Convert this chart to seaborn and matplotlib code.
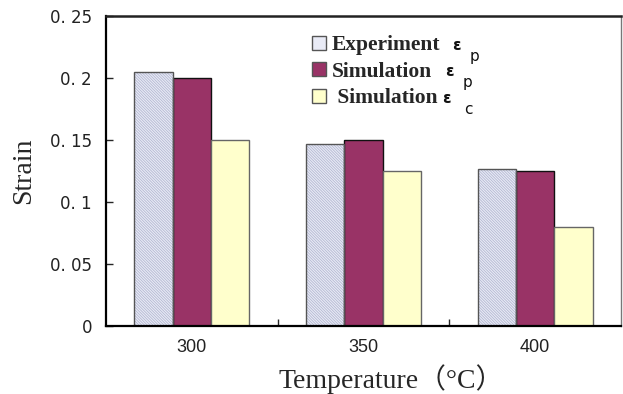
import matplotlib
matplotlib.use("Agg")
import matplotlib.pyplot as plt
import seaborn as sns
import pandas as pd
from matplotlib.patches import Patch, Rectangle
from matplotlib.ticker import FixedLocator

temperatures = ["300", "350", "400"]
series_names = ["Experiment εp", "Simulation εp", "Simulation εc"]
legend_words = ["Experiment", "Simulation", " Simulation"]
legend_subscripts = ["p", "p", "c"]
experiment_ep = [0.205, 0.147, 0.127]
simulation_ep = [0.200, 0.150, 0.125]
simulation_ec = [0.150, 0.125, 0.080]
colors = ["#E9EBF6", "#993366", "#FFFFCC"]
edge_colors = ["#555555", "#111111", "#666666"]
hatch_color = "#B4B8D2"
y_ticks = [0, 0.05, 0.1, 0.15, 0.2, 0.25]
y_tick_labels = ["0", "0. 05", "0. 1", "0. 15", "0. 2", "0. 25"]

rows = []
for name, vals in zip(series_names, [experiment_ep, simulation_ep, simulation_ec]):
    for t, v in zip(temperatures, vals):
        rows.append({"Temperature": t, "Strain": v, "Series": name})
df = pd.DataFrame(rows)

sns.set_style("ticks")
plt.rcParams["font.family"] = ["Liberation Serif", "Noto Sans CJK SC", "DejaVu Sans"]
plt.rcParams["hatch.linewidth"] = 0.6

fig = plt.figure(figsize=(6.23, 3.94), dpi=100)
ax = fig.add_axes([106/623, 1-326/394, (621-106)/623, (326-16)/394])

sns.barplot(data=df, x="Temperature", y="Strain", hue="Series",
            order=temperatures, hue_order=series_names,
            palette=dict(zip(series_names, colors)), saturation=1,
            width=0.67, edgecolor="black", linewidth=1.0, ax=ax, legend=False)

# hatch the experiment bars (hatch takes the edge colour; outline redrawn on top)
for bar in ax.containers[0]:
    bar.set_hatch("\\" * 12)
    bar.set_edgecolor(hatch_color)
    bar.set_linewidth(0)
    outline = Rectangle(bar.get_xy(), bar.get_width(), bar.get_height(), fill=False,
                        edgecolor=edge_colors[0], linewidth=1.0, zorder=bar.get_zorder() + 0.1)
    ax.add_patch(outline)
for bar in ax.containers[1]:
    bar.set_edgecolor(edge_colors[1])
for bar in ax.containers[2]:
    bar.set_edgecolor(edge_colors[2])

ax.set_ylim(0, 0.25)
ax.set_xlim(-0.5, len(temperatures) - 0.5)
ax.yaxis.set_major_locator(FixedLocator(y_ticks))
ax.set_yticklabels(y_tick_labels, fontsize=12, family=["DejaVu Sans"], color="#222222")
ax.set_xticks(range(len(temperatures)))
ax.set_xticklabels(temperatures, fontsize=13, family=["Liberation Sans"], color="#222222")
ax.tick_params(axis="x", length=0, pad=9)
ax.set_xticks([0.5, 1.5], minor=True)
ax.tick_params(axis="x", which="minor", direction="in", length=5, width=1)
ax.tick_params(axis="y", direction="in", length=5, width=1, pad=10)

for s in ["left", "bottom"]:
    ax.spines[s].set_linewidth(1.6)
    ax.spines[s].set_color("black")
ax.spines["top"].set_linewidth(1.8)
ax.spines["top"].set_color("#222222")
ax.spines["right"].set_linewidth(1.0)
ax.spines["right"].set_color("#777777")

ax.set_ylabel("Strain", fontsize=20, labelpad=10)
ax.set_xlabel("Temperature（°C）", fontsize=20, labelpad=6)
ax.xaxis.label.set_x(0.554)

handles = [Patch(facecolor=c, edgecolor="#555555", linewidth=1.0) for c in colors]
leg = ax.legend(handles, legend_words, loc="upper left", bbox_to_anchor=(0.363, 1.0),
                frameon=False, handlelength=0.62, handleheight=0.62, handletextpad=0.3,
                labelspacing=0.3, prop={"family": "Liberation Serif", "weight": "bold", "size": 15.5})
leg.set_zorder(5)

# epsilon symbols with lowered subscripts after each legend label
eps_gap = [8, 9, 3]
sub_shift = [13, 13, 16]
for txt, sub, gap, shift in zip(leg.get_texts(), legend_subscripts, eps_gap, sub_shift):
    ax.annotate("ε", xy=(1, 0.5), xycoords=txt, xytext=(gap, 0), textcoords="offset points",
                ha="left", va="center", fontsize=11, fontweight="bold", family="DejaVu Sans",
                color="#111111", zorder=10, annotation_clip=False)
    ax.annotate(sub, xy=(1, 0.5), xycoords=txt, xytext=(gap + shift, -8), textcoords="offset points",
                ha="left", va="center", fontsize=11, family="DejaVu Sans",
                color="#111111", zorder=10, annotation_clip=False)

fig.savefig("out.png", dpi=100)
